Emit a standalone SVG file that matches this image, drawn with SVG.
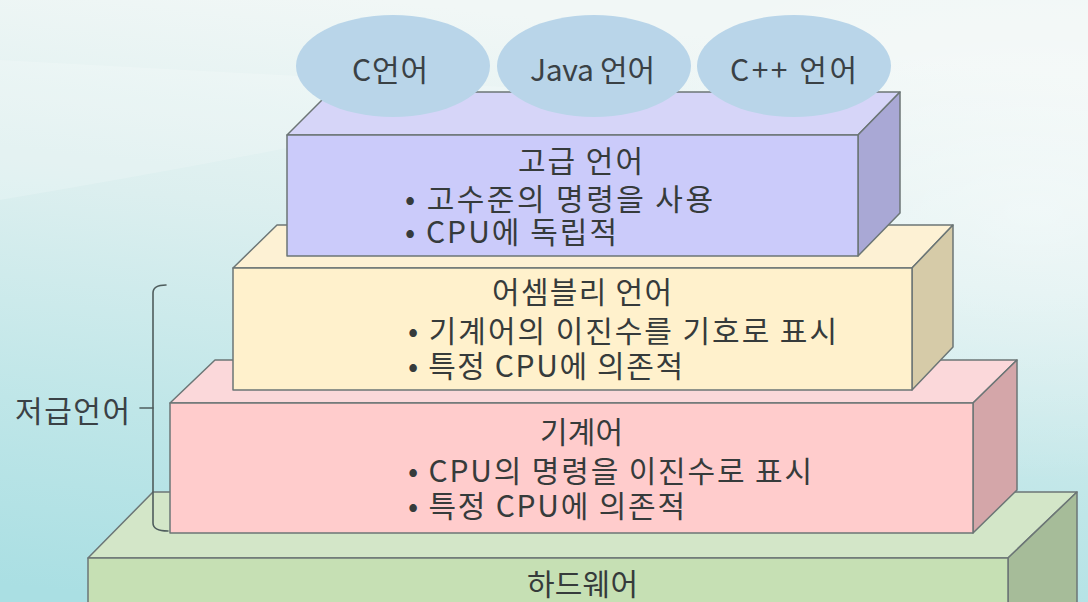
<svg xmlns="http://www.w3.org/2000/svg" width="1088" height="602" viewBox="0 0 1088 602">
  <defs>
    <linearGradient id="bg" x1="0.35" y1="0" x2="0.15" y2="1">
      <stop offset="0" stop-color="#f1f7f6"/>
      <stop offset="0.35" stop-color="#dcefef"/>
      <stop offset="0.7" stop-color="#bfe6e8"/>
      <stop offset="1" stop-color="#aadfe3"/>
    </linearGradient>
    <radialGradient id="glow" cx="0.95" cy="0.35" r="0.45">
      <stop offset="0" stop-color="#ffffff" stop-opacity="0.45"/>
      <stop offset="1" stop-color="#ffffff" stop-opacity="0"/>
    </radialGradient>
    <style>
      .edge { stroke: #6c7676; stroke-width: 1.5; stroke-linejoin: round; }
      .txt { font-family: "Noto Sans CJK KR", "Noto Sans", sans-serif; fill: #363b3b; font-size: 30px; }
      .oval { fill: #b9d5e9; }
      .otxt { font-family: "Noto Sans CJK KR", "Noto Sans", sans-serif; fill: #3a4145; font-size: 30px; }
      .brace { fill: none; stroke: #4f5d5d; stroke-width: 1.6; stroke-linecap: round; stroke-linejoin: round; }
    </style>
  </defs>

  <rect x="0" y="0" width="1088" height="602" fill="url(#bg)"/>
  <rect x="0" y="0" width="1088" height="602" fill="url(#glow)"/>
  <path d="M0 200 Q300 150 560 90 L0 60 Z" fill="#ffffff" opacity="0.18"/>

  <g id="hardware">
    <polygon class="edge" points="88,558 153,492 1077,492 1008,558" fill="#d3e6c8"/>
    <polygon class="edge" points="1008,558 1077,492 1077,610 1008,610" fill="#a6bc99"/>
    <rect class="edge" x="88" y="558" width="920" height="52" fill="#c6e0b4"/>
    <text class="txt" x="527" y="595" textLength="111">하드웨어</text>
  </g>

  <g id="machine">
    <polygon class="edge" points="170,403 215,360 1017,360 973,403" fill="#fbd8da"/>
    <polygon class="edge" points="973,403 1017,360 1017,490 973,533" fill="#d4a6a9"/>
    <rect class="edge" x="170" y="403" width="803" height="130" fill="#ffcccc"/>
    <text class="txt" x="540" y="443" textLength="83">기계어</text>
    <text class="txt" x="408" y="482" textLength="404">• CPU의 명령을 이진수로 표시</text>
    <text class="txt" x="408" y="517" textLength="277">• 특정 CPU에 의존적</text>
  </g>

  <g id="assembly">
    <polygon class="edge" points="233,268 277,225 953,225 912,268" fill="#fdf1d4"/>
    <polygon class="edge" points="912,268 953,225 953,347 912,390" fill="#d6cba8"/>
    <rect class="edge" x="233" y="268" width="679" height="122" fill="#fff1cc"/>
    <text class="txt" x="492" y="303" textLength="180">어셈블리 언어</text>
    <text class="txt" x="408" y="342" textLength="429">• 기계어의 이진수를 기호로 표시</text>
    <text class="txt" x="408" y="377" textLength="275">• 특정 CPU에 의존적</text>
  </g>

  <g id="high-level">
    <polygon class="edge" points="287,135 330,92 900,92 858,135" fill="#d6d5f8"/>
    <polygon class="edge" points="858,135 900,92 900,213 858,256" fill="#a9a8d5"/>
    <rect class="edge" x="287" y="135" width="571" height="121" fill="#cbcbfa"/>
    <text class="txt" x="518" y="172" textLength="125">고급 언어</text>
    <text class="txt" x="405" y="210" textLength="308">• 고수준의 명령을 사용</text>
    <text class="txt" x="405" y="243" textLength="212">• CPU에 독립적</text>
  </g>

  <g id="lang-c">
    <ellipse class="oval" cx="393" cy="66" rx="97" ry="51"/>
    <text class="otxt" x="352" y="81" textLength="76">C언어</text>
  </g>
  <g id="lang-java">
    <ellipse class="oval" cx="594" cy="66" rx="97" ry="51"/>
    <text class="otxt" x="530" y="81" textLength="125">Java 언어</text>
  </g>
  <g id="lang-cpp">
    <ellipse class="oval" cx="794" cy="66" rx="97" ry="51"/>
    <text class="otxt" x="730" y="81" textLength="127">C++ 언어</text>
  </g>

  <g id="connectors">
    <path class="brace" d="M166 285 Q153 285 153 293 L153 523 Q153 531 168 531"/>
    <line class="brace" x1="140" y1="408" x2="153" y2="408"/>
  </g>

  <g id="low-level-label">
    <text class="otxt" x="15" y="422" textLength="115">저급언어</text>
  </g>
</svg>
